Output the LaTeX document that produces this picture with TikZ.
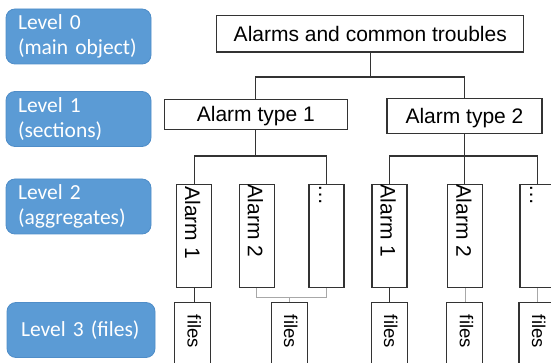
\documentclass[tikz,border=0pt]{standalone}
\usepackage{fontspec}
\setmainfont{Liberation Sans}
\newfontfamily\lvlfont{Carlito}
\usetikzlibrary{calc}

\definecolor{lvlblue}{HTML}{5B9BD5}
\definecolor{lvledge}{HTML}{4F8DC8}
\definecolor{edgedark}{HTML}{333333}
\definecolor{edgegrey}{HTML}{A8A8A8}

\tikzset{
  lvlbox/.style={rounded corners=9pt, fill=lvlblue, draw=lvledge, line width=0.8pt,
    text=white, font=\lvlfont\fontsize{21.5}{25}\selectfont, align=left,
    inner xsep=12pt, inner ysep=0pt, minimum height=55pt},
  hbox/.style={draw=edgedark, line width=1.2pt, inner sep=0pt,
    font=\fontsize{21}{25}\selectfont, text height=15pt, text depth=0pt},
  vbox/.style={draw=edgedark, line width=1.2pt, inner sep=0pt},
  vtext/.style={rotate=-90, anchor=base west, inner sep=0pt,
    font=\fontsize{21}{25}\selectfont},
  ftext/.style={rotate=-90, anchor=base west, inner sep=0pt,
    font=\fontsize{18.5}{22}\selectfont},
  link/.style={draw=edgedark, line width=1.2pt},
  glink/.style={draw=edgegrey, line width=1.2pt},
}

\begin{document}
\begin{tikzpicture}[x=1pt, y=-1pt]
\useasboundingbox (0,0) rectangle (551,363);
\clip (0,0) rectangle (551,363);

% level captions
\node[lvlbox, text width=121pt] (lv0) at (78.5,36.5) {Level 0\\(main object)};
\node[lvlbox, text width=121pt] (lv1) at (78.5,119) {Level 1\\(sections)};
\node[lvlbox, text width=121pt] (lv2) at (78.5,206.5) {Level 2\\(aggregates)};
\node[lvlbox, text width=120pt, inner xsep=14pt] (lv3) at (81,330) {Level 3 (files)};

% main object and sections
\node[hbox, minimum width=307pt, minimum height=36.5pt] (top) at (370.3,33.7) {Alarms and common troubles};
\node[hbox, minimum width=183pt, minimum height=30pt] (type1) at (255.8,114.3) {Alarm type 1};
\node[hbox, minimum width=155pt, minimum height=35pt] (type2) at (464.5,115.8) {Alarm type 2};

% aggregates
\foreach \n/\x in {a1L/194.1, a2L/256.8, dL/326.5, a1R/389.5, a2R/465.3, dR/537.5}
  \node[vbox, minimum width=35pt, minimum height=103pt] (\n) at (\x,235.8) {};

\node[vtext] (t1L) at ($(a1L.north)+(-9,2.5)$) {Alarm 1};
\node[vtext] (t2L) at ($(a2L.north)+(-9,1)$) {Alarm 2};
\node[vtext] (tdL) at ($(dL.north)+(-7.5,1)$) {\dots};
\node[vtext] (t1R) at ($(a1R.north)+(-9,1)$) {Alarm 1};
\node[vtext] (t2R) at ($(a2R.north)+(-9,1)$) {Alarm 2};
\node[vtext] (tdR) at ($(dR.north)+(-7.5,1)$) {\dots};

% files
\foreach \n/\x in {f1/192.7, f2/289.2, f3/389.2, f4/464.8, f5/537}
  \node[vbox, minimum width=36pt, minimum height=72pt] (\n) at (\x,338.3) {};
\foreach \n in {f1,f2,f3,f4,f5}
  \node[ftext] (t\n) at ($(\n.north)+(-5,13)$) {files};

% junction heights
\coordinate (y0) at (0,77);
\coordinate (y1) at (0,156);
\coordinate (y2) at (0,297.7);

% level 0 -> level 1
\draw[link] (top.south) -- (top.south |- y0);
\draw[link] (type1.north) -- (type1.north |- y0) -- (type2.north |- y0) -- (type2.north);

% level 1 -> level 2
\draw[link] (type1.south) -- (type1.south |- y1);
\draw[link] (a1L.north) -- (a1L.north |- y1) -- (dL.north |- y1) -- (dL.north);
\draw[link] (type2.south) -- (type2.south |- a2R.north);
\draw[link] (a1R.north) -- (a1R.north |- y1) -- (dR.north |- y1) -- (dR.north);

% level 2 -> level 3
\draw[link] (a1L.south) -- (a1L.south |- f1.north);
\draw[link] (a1R.south) -- (a1R.south |- f3.north);
\draw[glink] (a2L.south) -- (a2L.south |- y2) -- (dL.south |- y2) -- (dL.south);
\draw[glink] (f2.north) -- (f2.north |- y2);
\draw[glink] (a2R.south) -- (a2R.south |- f4.north);
\draw[glink] (dR.south) -- (dR.south |- f5.north);
\end{tikzpicture}
\end{document}
